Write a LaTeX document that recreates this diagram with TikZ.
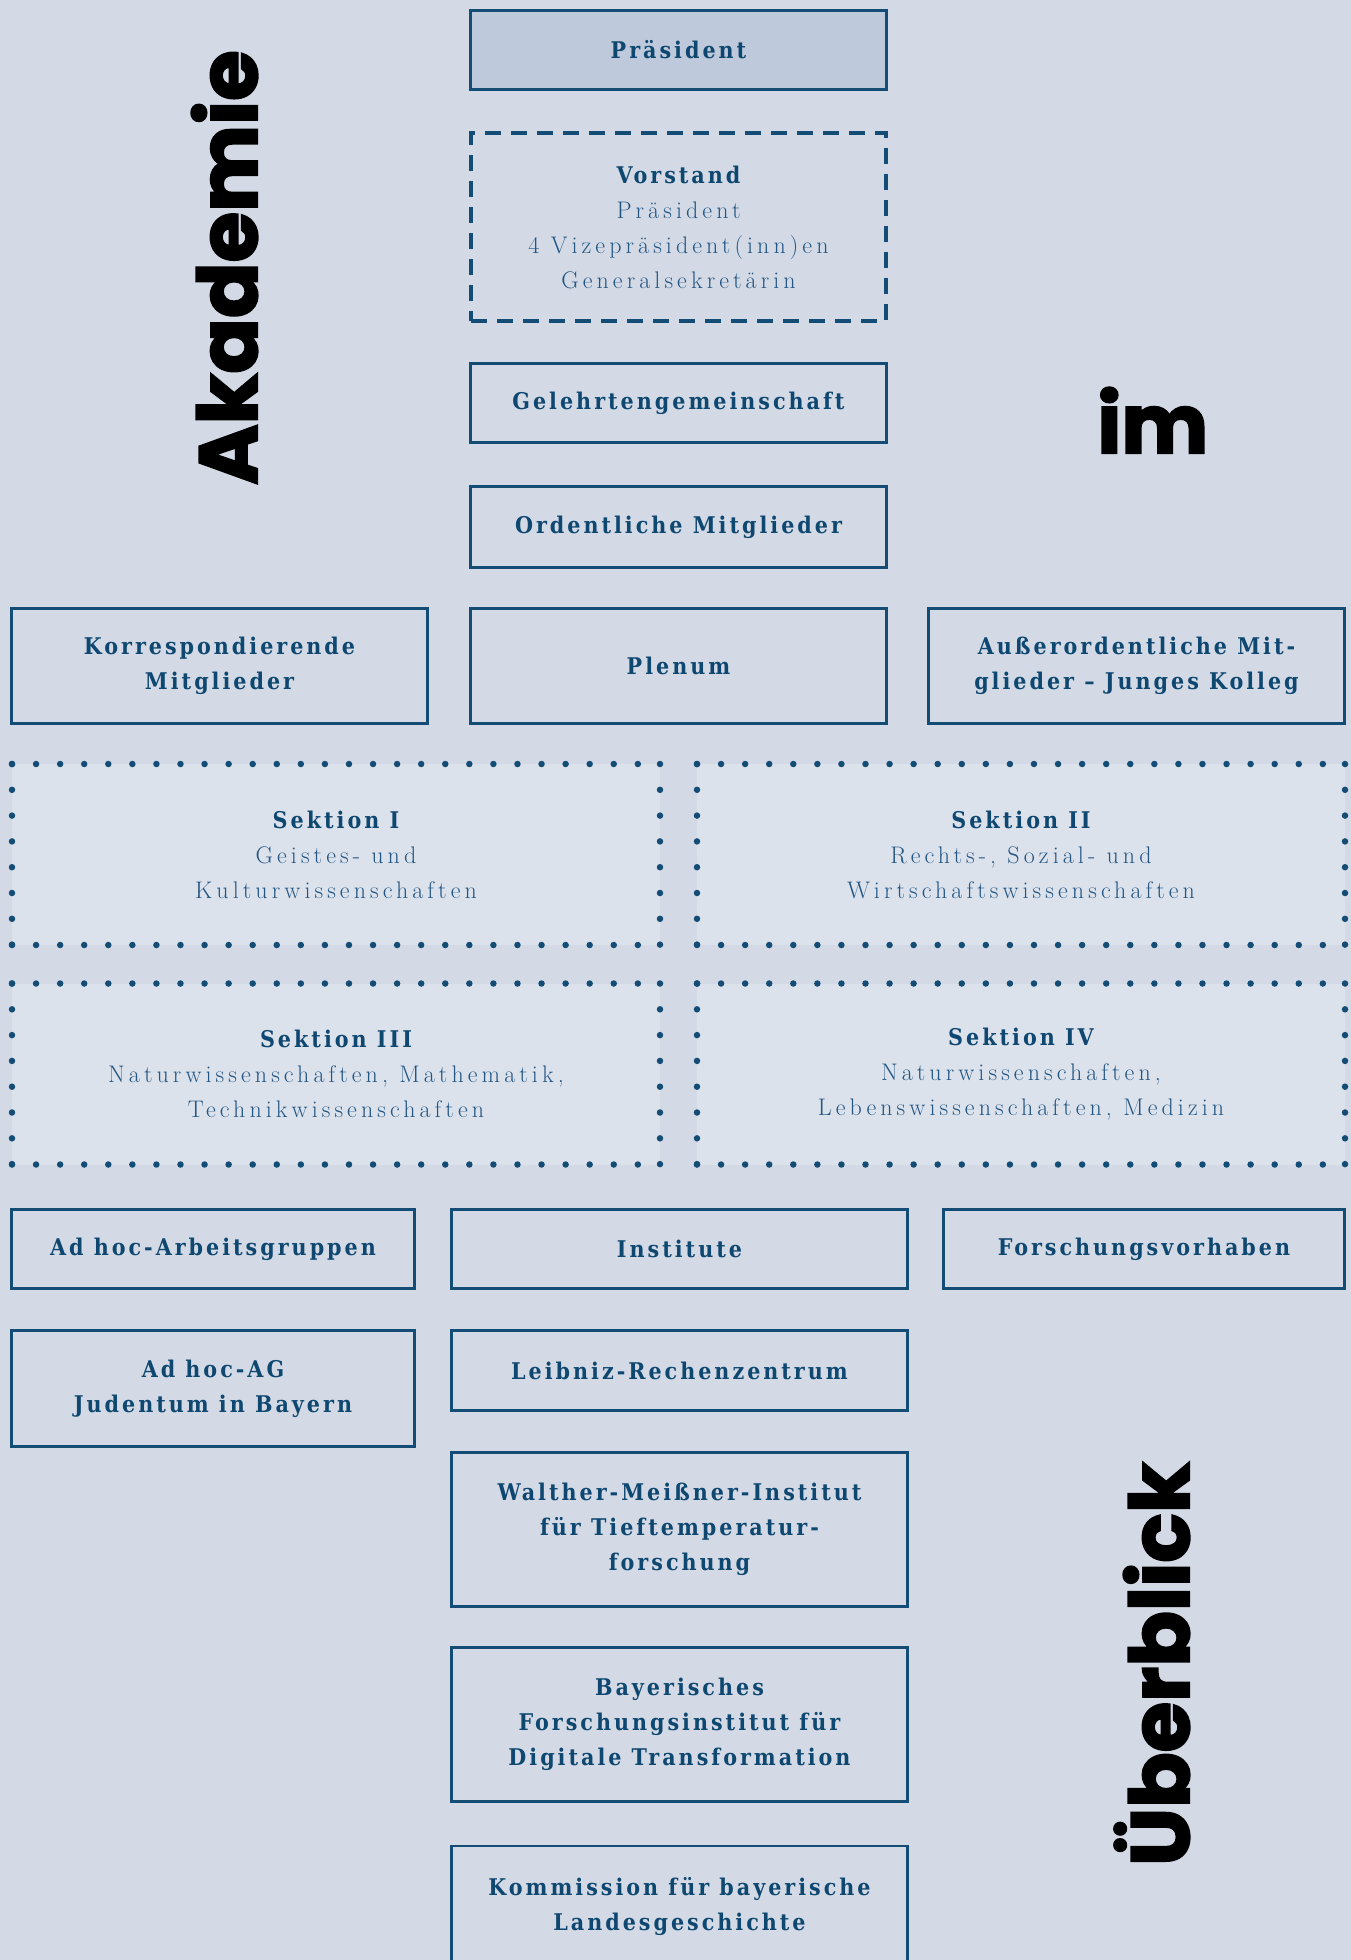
\documentclass[tikz,border=0pt]{standalone}
\usepackage{fontspec}
\newfontfamily\boxbold{DejaVu Serif Condensed}[LetterSpace=13]
\newfontfamily\boxlight{Latin Modern Roman}[LetterSpace=17]
\newfontfamily\bigsans{Poppins}[BoldFeatures={FakeBold=2.5}]
\definecolor{bg}{HTML}{D3DAE6}
\definecolor{presfill}{HTML}{BEC9DB}
\definecolor{sekfill}{HTML}{DCE2EC}
\definecolor{bdr}{HTML}{134C74}
\definecolor{txtb}{HTML}{0E4770}
\definecolor{txtl}{HTML}{235683}
\newcommand\lt[1]{{\boxlight\mdseries\color{txtl}\fontsize{24}{35}\selectfont#1}}
\tikzset{
  sbox/.style={draw=bdr, line width=2.6pt, fill=bg, text=txtb, align=center, inner sep=0pt,
    font=\boxbold\bfseries\fontsize{23}{35}\selectfont},
  dashbox/.style={sbox, line width=4pt, dash pattern=on 16pt off 10pt},
  secbox/.style={sbox, draw=none, fill=sekfill, outer sep=0pt},
  dotline/.style={draw=bdr, line width=6.5pt, line cap=round},
  bigword/.style={font=\bigsans\bfseries\fontsize{82}{82}\selectfont, text=black, inner sep=0pt}
}
\newcommand\dotframe[1]{%
  \path[dotline, dash pattern=on 0pt off 24.07pt] (#1.north west) -- (#1.north east);
  \path[dotline, dash pattern=on 0pt off 24.07pt] (#1.south west) -- (#1.south east);
  \path[dotline, dash pattern=on 0pt off 25.8pt] (#1.north west) -- (#1.south west);
  \path[dotline, dash pattern=on 0pt off 25.8pt] (#1.north east) -- (#1.south east);}
\begin{document}
\begin{tikzpicture}[x=1pt,y=-1pt]
\useasboundingbox (0,0) rectangle (1351,1960);
\fill[bg] (0,0) rectangle (1351,1960);
\clip (0,0) rectangle (1351,1960);
% center column
\node[sbox, fill=presfill, minimum width=416pt, minimum height=79pt] (pres) at (678.5,50) {Präsident};
\node[dashbox, minimum width=415pt, minimum height=188pt] (vorst) at (678.5,227)
  {Vorstand\\\lt{Präsident}\\\lt{4 Vizepräsident(inn)en}\\\lt{Generalsekretärin}};
\node[sbox, minimum width=416pt, minimum height=79pt] (geleh) at (678.5,403) {Gelehrtengemeinschaft};
\node[sbox, minimum width=416pt, minimum height=81pt] (ordent) at (678.5,527) {Ordentliche Mitglieder};
% row 3
\node[sbox, minimum width=416pt, minimum height=115pt] (korr) at (219.5,666) {Korrespondierende\\Mitglieder};
\node[sbox, minimum width=416pt, minimum height=115pt] (plenum) at (678.5,666) {Plenum};
\node[sbox, minimum width=416pt, minimum height=115pt] (auss) at (1136.5,666) {Außerordentliche Mit-\\glieder – Junges Kolleg};
% sections
\node[secbox, minimum width=648pt, minimum height=181pt] (sek1) at (336,854.5)
  {Sektion I\\\lt{Geistes- und}\\\lt{Kulturwissenschaften}};
\node[secbox, minimum width=648pt, minimum height=181pt] (sek2) at (1021,854.5)
  {Sektion II\\\lt{Rechts-, Sozial- und}\\\lt{Wirtschaftswissenschaften}};
\node[secbox, minimum width=648pt, minimum height=181pt] (sek3) at (336,1074)
  {Sektion III\\\lt{Naturwissenschaften, Mathematik,}\\\lt{Technikwissenschaften}};
\node[secbox, minimum width=648pt, minimum height=181pt] (sek4) at (1021,1074)
  {Sektion IV\\\lt{Naturwissenschaften,}\\\lt{Lebenswissenschaften, Medizin}};
\dotframe{sek1}\dotframe{sek2}\dotframe{sek3}\dotframe{sek4}
% lower rows
\node[sbox, minimum width=403pt, minimum height=79pt] (adhoc) at (213,1249) {Ad hoc-Arbeitsgruppen};
\node[sbox, minimum width=456pt, minimum height=79pt] (inst) at (679.5,1249) {Institute};
\node[sbox, minimum width=401pt, minimum height=79pt] (forsch) at (1144,1249) {Forschungsvorhaben};
\node[sbox, minimum width=403pt, minimum height=116pt] (adhocag) at (213,1388.5) {Ad hoc-AG\\Judentum in Bayern};
\node[sbox, minimum width=456pt, minimum height=80pt] (lrz) at (679.5,1370.5) {Leibniz-Rechenzentrum};
\node[sbox, minimum width=456pt, minimum height=154pt] (wmi) at (679.5,1529.5) {Walther-Meißner-Institut\\für Tieftemperatur-\\forschung};
\node[sbox, minimum width=456pt, minimum height=154pt] (bidt) at (679.5,1724.5) {Bayerisches\\Forschungsinstitut für\\Digitale Transformation};
\node[sbox, minimum width=456pt, minimum height=120pt] (kbl) at (679.5,1906) {Kommission für bayerische\\Landesgeschichte};
% big words
\node[bigword, rotate=90, anchor=base west] (akad) at (257,485) {Akademie};
\node[bigword, anchor=base west] (im) at (1097,453) {im};
\node[bigword, rotate=90, anchor=base west] (ueber) at (1189,1866) {Überblick};
\end{tikzpicture}
\end{document}
